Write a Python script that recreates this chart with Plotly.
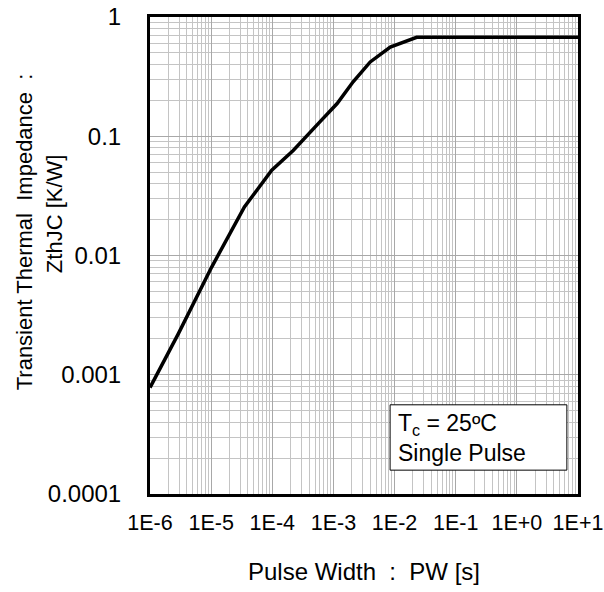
import plotly.graph_objects as go

# Zth(jc) curve
pulse_width = [1e-6, 2.9e-6, 1.02e-5, 3.5e-5, 9.8e-5, 2.2e-4, 6e-4, 1.15e-3,
               2.1e-3, 4e-3, 8.5e-3, 1.4e-2, 2.3e-2, 1e1]
zth = [0.00078, 0.0022, 0.008, 0.0255, 0.052, 0.076, 0.132, 0.188,
       0.286, 0.42, 0.56, 0.62, 0.675, 0.675]

x_ticks = [1e-6, 1e-5, 1e-4, 1e-3, 1e-2, 1e-1, 1e0, 1e1]
x_labels = ["1E-6", "1E-5", "1E-4", "1E-3", "1E-2", "1E-1", "1E+0", "1E+1"]
y_ticks = [1e-4, 1e-3, 1e-2, 1e-1, 1]
y_labels = ["0.0001", "0.001", "0.01", "0.1", "1"]

FONT = "Liberation Sans, Arial, sans-serif"

fig = go.Figure()
fig.add_trace(go.Scatter(x=pulse_width, y=zth, mode="lines",
                         line=dict(color="black", width=3.5), showlegend=False))

axis_common = dict(
    type="log", automargin=False, ticklabeloverflow="allow",
    showline=True, linecolor="black", linewidth=3, mirror=True,
    showgrid=True, gridcolor="#a8a8a8", gridwidth=1,
    minor=dict(dtick="D1", showgrid=True, gridcolor="#c4c4c4", gridwidth=1),
    ticks="", ticklen=0, zeroline=False,
)

fig.update_xaxes(**axis_common, range=[-6, 1], tickvals=x_ticks, ticktext=x_labels,
                 tickfont=dict(family=FONT, size=21.5, color="black"),
                 ticklabelstandoff=7,
                 title=dict(text="Pulse Width \u00a0:\u00a0 PW [s]",
                            font=dict(family=FONT, size=24, color="black"),
                            standoff=30))
fig.update_yaxes(**axis_common, range=[-4, 0], tickvals=y_ticks, ticktext=y_labels,
                 tickfont=dict(family=FONT, size=24, color="black"),
                 ticklabelstandoff=21)

# y-axis title as two rotated lines
fig.add_annotation(text="Transient Thermal \u00a0Impedance \u00a0:", textangle=-90,
                   xref="paper", yref="paper", x=-0.294, y=0.549, showarrow=False,
                   xanchor="center", yanchor="middle",
                   font=dict(family=FONT, size=22, color="black"))
fig.add_annotation(text="ZthJC [K/W]", textangle=-90,
                   xref="paper", yref="paper", x=-0.224, y=0.587, showarrow=False,
                   xanchor="center", yanchor="middle",
                   font=dict(family=FONT, size=22, color="black"))

# condition box
fig.add_shape(type="rect", xref="paper", yref="paper", x0=0.561, x1=0.974,
              y0=0.050, y1=0.187, line=dict(color="black", width=1), fillcolor="white")
fig.add_annotation(text="T<sub>c</sub> = 25ºC<br>Single Pulse", align="left",
                   xref="paper", yref="paper", x=0.575, y=0.118, showarrow=False,
                   xanchor="left", yanchor="middle",
                   font=dict(family=FONT, size=23, color="black"))

fig.update_layout(
    width=604, height=592,
    margin=dict(l=150, r=26, t=17, b=98),
    plot_bgcolor="white", paper_bgcolor="white",
)

# drop the default 8px body margin so the figure fills the window
fig.write_html("out.html", config={"displayModeBar": False},
               post_script="document.body.style.margin='0';")
